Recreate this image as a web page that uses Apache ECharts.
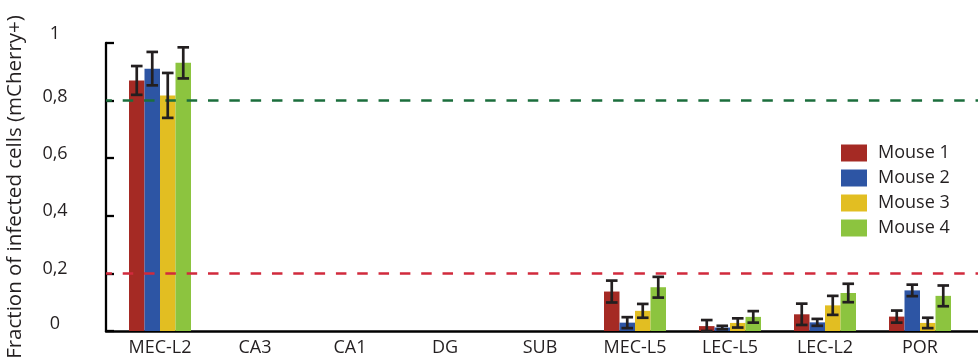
<!DOCTYPE html>
<html>
<head>
<meta charset="utf-8">
<script src="https://cdn.jsdelivr.net/npm/echarts@6/dist/echarts.min.js"></script>
<style>html,body{margin:0;padding:0;background:#fff}#c{width:978px;height:361px}</style>
</head>
<body>
<div id="c"></div>
<script>
const categories = ['MEC-L2', 'CA3', 'CA1', 'DG', 'SUB', 'MEC-L5', 'LEC-L5', 'LEC-L2', 'POR'];
const seriesNames = ['Mouse 1', 'Mouse 2', 'Mouse 3', 'Mouse 4'];
const mouse1 = [0.870, 0, 0, 0, 0, 0.137, 0.017, 0.058, 0.050];
const mouse1Err = [0.050, 0, 0, 0, 0, 0.038, 0.021, 0.037, 0.021];
const mouse2 = [0.911, 0, 0, 0, 0, 0.029, 0.012, 0.030, 0.141];
const mouse2Err = [0.058, 0, 0, 0, 0, 0.019, 0.006, 0.012, 0.020];
const mouse3 = [0.818, 0, 0, 0, 0, 0.070, 0.028, 0.089, 0.028];
const mouse3Err = [0.078, 0, 0, 0, 0, 0.024, 0.016, 0.033, 0.018];
const mouse4 = [0.931, 0, 0, 0, 0, 0.152, 0.049, 0.132, 0.122];
const mouse4Err = [0.054, 0, 0, 0, 0, 0.036, 0.020, 0.032, 0.036];
const yTickValues = [0, 0.2, 0.4, 0.6, 0.8, 1];
const yTickLabels = ['0', '0,2', '0,4', '0,6', '0,8', '1'];
const thresholdHigh = 0.8;
const thresholdLow = 0.2;

const means = [mouse1, mouse2, mouse3, mouse4];
const errs = [mouse1Err, mouse2Err, mouse3Err, mouse4Err];
const colors = ['#A52A24', '#2D55A4', '#E2BE22', '#8CC43F'];
const FONT = 'Open Sans';
const TXT = '#231f20';
const BAR_W = 15.5;
// per-label vertical lift in px (style only)
const labelLift = [7, 5, 5, 4, 4, 9];

const chart = echarts.init(document.getElementById('c'), null, {renderer: 'canvas'});

const series = [];
means.forEach((m, i) => {
  series.push({
    name: seriesNames[i], type: 'bar', xAxisIndex: 0, yAxisIndex: 0,
    data: m, barWidth: BAR_W, barGap: '0%', itemStyle: {color: colors[i]},
    emphasis: {disabled: true}, z: 2
  });
});
means.forEach((m, i) => {
  const off = (i - 1.5) * BAR_W;
  series.push({
    type: 'custom', xAxisIndex: 0, yAxisIndex: 0, z: 5,
    data: m.map((v, k) => [k, v, errs[i][k]]),
    renderItem: function (params, api) {
      const ci = api.value(0), v = api.value(1), e = api.value(2);
      if (!v && !e) return null;
      const x = api.coord([ci, v])[0] + off;
      const yt = api.coord([ci, v + e])[1];
      const yb = api.coord([ci, Math.max(v - e, 0)])[1];
      const cw = 5.8;
      const st = {stroke: '#231f20', lineWidth: 2.7};
      return {
        type: 'group', children: [
          {type: 'line', shape: {x1: x, y1: yt, x2: x, y2: yb}, style: st},
          {type: 'line', shape: {x1: x - cw, y1: yt, x2: x + cw, y2: yt}, style: st},
          {type: 'line', shape: {x1: x - cw, y1: yb, x2: x + cw, y2: yb}, style: st}
        ]
      };
    }
  });
});
series.push({
  type: 'line', xAxisIndex: 1, yAxisIndex: 1, data: [], silent: true,
  markLine: {
    symbol: 'none', silent: true, label: {show: false},
    data: [
      {yAxis: thresholdHigh, lineStyle: {color: '#1b6e3c', type: [10.5, 10.82], dashOffset: 4.6, width: 2.6}},
      {yAxis: thresholdLow, lineStyle: {color: '#d12a3c', type: [10.5, 10.82], dashOffset: 4.6, width: 2.6}}
    ]
  }
});

const rich = {};
labelLift.forEach((l, i) => {
  rich['r' + i] = {fontFamily: FONT, fontSize: 18, color: TXT, padding: [0, 0, 2 * l, 0]};
});

chart.setOption({
  animation: false,
  textStyle: {fontFamily: FONT},
  grid: [
    {left: 112.5, right: 10.5, top: 43, bottom: 30, outerBoundsMode: 'none', containLabel: false},
    {left: 106, right: 0, top: 43, bottom: 30, outerBoundsMode: 'none', containLabel: false}
  ],
  legend: {
    data: seriesNames, orient: 'vertical', left: 836, top: 139,
    itemWidth: 26, itemHeight: 17, itemGap: 7, icon: 'rect',
    textStyle: {fontFamily: FONT, fontSize: 18, color: TXT, padding: [0, 0, 0, 6]}
  },
  xAxis: [
    {
      type: 'category', gridIndex: 0, data: categories,
      axisLine: {show: false}, axisTick: {show: false},
      axisLabel: {fontFamily: FONT, fontSize: 18, color: TXT, margin: 8, interval: 0}
    },
    {
      type: 'value', gridIndex: 1, min: 0, max: 1,
      axisLine: {show: true, lineStyle: {color: '#000', width: 2.5}},
      axisTick: {show: false}, axisLabel: {show: false}, splitLine: {show: false}
    }
  ],
  yAxis: [
    {type: 'value', gridIndex: 0, min: 0, max: 1, show: false, splitLine: {show: false}},
    {
      type: 'value', gridIndex: 1, min: 0, max: 1, interval: 0.2,
      name: 'Fraction of infected cells (mCherry+)', nameLocation: 'middle', nameGap: 80,
      nameTextStyle: {fontFamily: FONT, fontSize: 20.5, color: TXT},
      axisLine: {show: true, lineStyle: {color: '#000', width: 2.3}},
      axisTick: {show: true, inside: true, length: 8, lineStyle: {color: '#000', width: 2.3}},
      splitLine: {show: false},
      axisLabel: {
        fontFamily: FONT, fontSize: 18, color: TXT, align: 'center', margin: 51,
        rich: rich,
        formatter: function (v) {
          const idx = yTickValues.findIndex(t => Math.abs(t - v) < 1e-6);
          return idx >= 0 ? '{r' + idx + '|' + yTickLabels[idx] + '}' : '';
        }
      }
    }
  ],
  series: series
});
</script>
</body>
</html>
